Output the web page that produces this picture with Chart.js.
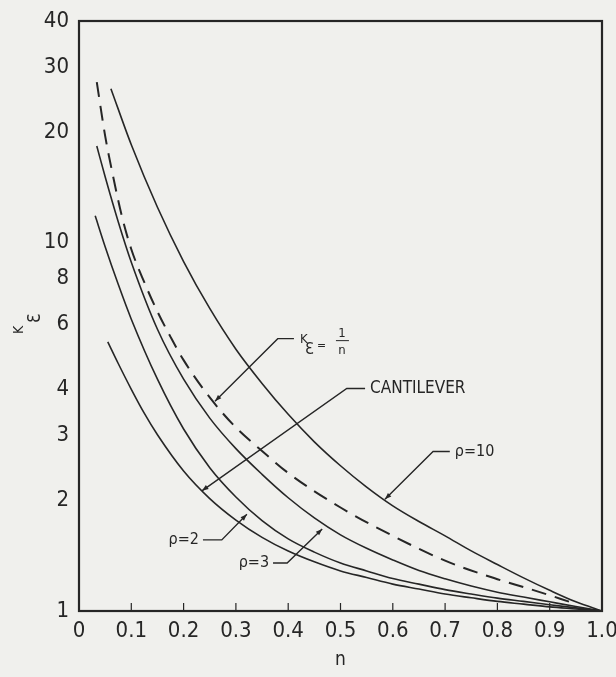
<!DOCTYPE html>
<html>
<head>
<meta charset="utf-8">
<script src="https://cdn.jsdelivr.net/npm/chart.js@4.4.1/dist/chart.umd.min.js"></script>
<style>
html, body { margin: 0; padding: 0; background: #f0f0ed; }
</style>
</head>
<body>
<canvas id="kChart" width="616" height="677"></canvas>
<script>
// AXES
const nTicks = [0, 0.1, 0.2, 0.3, 0.4, 0.5, 0.6, 0.7, 0.8, 0.9, 1.0];
const nTickLabels = ['0', '0.1', '0.2', '0.3', '0.4', '0.5', '0.6', '0.7', '0.8', '0.9', '1.0'];
const kTicks = [1, 2, 3, 4, 6, 8, 10, 20, 30, 40];

// CURVES
const nP10 = [0.061, 0.1, 0.15, 0.2, 0.25, 0.3, 0.35, 0.4, 0.45, 0.5, 0.55, 0.6, 0.65, 0.7, 0.75, 0.8, 0.85, 0.9, 0.95, 1.0];
const kP10 = [26.2, 18.45, 12.48, 8.89, 6.63, 5.14, 4.15, 3.42, 2.88, 2.48, 2.17, 1.93, 1.75, 1.6, 1.456, 1.337, 1.23, 1.138, 1.059, 1.0];

const nInv = [0.034, 0.05, 0.065, 0.082, 0.1, 0.125, 0.15, 0.175, 0.2, 0.25, 0.3, 0.35, 0.4, 0.5, 0.6, 0.7, 0.8, 0.86, 0.92, 0.95];
const kInv = [27.3, 19.5, 15.2, 11.8, 9.6, 7.8, 6.5, 5.55, 4.8, 3.8, 3.15, 2.72, 2.37, 1.91, 1.6, 1.37, 1.22, 1.15, 1.08, 1.045];

const nP3 = [0.034, 0.05, 0.075, 0.1, 0.15, 0.2, 0.25, 0.3, 0.35, 0.4, 0.45, 0.5, 0.55, 0.6, 0.65, 0.7, 0.75, 0.8, 0.85, 0.9, 0.95, 1.0];
const kP3 = [18.3, 15.1, 11.4, 8.85, 5.82, 4.26, 3.34, 2.76, 2.35, 2.03, 1.79, 1.61, 1.48, 1.376, 1.288, 1.223, 1.169, 1.125, 1.091, 1.059, 1.028, 1.0];

const nP2 = [0.031, 0.05, 0.075, 0.1, 0.15, 0.2, 0.25, 0.3, 0.35, 0.4, 0.45, 0.5, 0.55, 0.6, 0.65, 0.7, 0.75, 0.8, 0.85, 0.9, 0.95, 1.0];
const kP2 = [11.83, 9.75, 7.71, 6.2, 4.26, 3.12, 2.45, 2.04, 1.76, 1.57, 1.445, 1.35, 1.285, 1.225, 1.183, 1.143, 1.112, 1.084, 1.062, 1.04, 1.02, 1.0];

const nCant = [0.055, 0.075, 0.1, 0.125, 0.15, 0.2, 0.25, 0.3, 0.35, 0.4, 0.45, 0.5, 0.55, 0.6, 0.65, 0.7, 0.75, 0.8, 0.85, 0.9, 0.95, 1.0];
const kCant = [5.38, 4.7, 4.0, 3.44, 3.01, 2.4, 2.02, 1.766, 1.585, 1.455, 1.36, 1.285, 1.233, 1.183, 1.147, 1.112, 1.086, 1.062, 1.044, 1.026, 1.013, 1.0];

// LEADER LABELS (tip, elbow, end in n / K units)
const notes = [
    { text: 'CANTILEVER', tip: [0.235, 2.12], elbow: [0.512, 4.02], end: [0.547, 4.02], side: 'right' },
    { text: 'ρ=10', tip: [0.585, 2.01], elbow: [0.677, 2.71], end: [0.709, 2.71], side: 'right' },
    { text: 'ρ=2', tip: [0.321, 1.83], elbow: [0.273, 1.56], end: [0.237, 1.56], side: 'left' },
    { text: 'ρ=3', tip: [0.465, 1.67], elbow: [0.398, 1.35], end: [0.371, 1.35], side: 'left' },
    { text: 'inverse', tip: [0.26, 3.71], elbow: [0.38, 5.49], end: [0.411, 5.49], side: 'right' }
];

const ink = '#262626';
const fam = "'DejaVu Sans Condensed', 'DejaVu Sans', sans-serif";

function pts(ns, ks) {
    return ns.map((n, i) => ({ x: n, y: ks[i] }));
}

function curve(label, ns, ks, dash) {
    return {
        label: label,
        data: pts(ns, ks),
        showLine: true,
        borderColor: ink,
        borderWidth: dash ? 2 : 1.6,
        borderDash: dash || [],
        pointRadius: 0,
        cubicInterpolationMode: 'monotone',
        fill: false
    };
}

function arrowHead(ctx, x0, y0, x1, y1) {
    const a = Math.atan2(y1 - y0, x1 - x0);
    const len = 7;
    ctx.beginPath();
    ctx.moveTo(x1, y1);
    ctx.lineTo(x1 - len * Math.cos(a - 0.35), y1 - len * Math.sin(a - 0.35));
    ctx.lineTo(x1 - len * Math.cos(a + 0.35), y1 - len * Math.sin(a + 0.35));
    ctx.closePath();
    ctx.fill();
}

const decor = {
    id: 'decor',
    beforeDraw(chart) {
        const ctx = chart.ctx;
        ctx.save();
        ctx.fillStyle = '#f0f0ed';
        ctx.fillRect(0, 0, chart.width, chart.height);
        ctx.restore();
    },
    afterDatasetsDraw(chart) {
        const ctx = chart.ctx;
        const a = chart.chartArea;
        const xs = chart.scales.x;
        const ys = chart.scales.y;

        ctx.save();
        ctx.strokeStyle = ink;
        ctx.fillStyle = ink;

        // frame
        ctx.lineWidth = 2.2;
        ctx.strokeRect(a.left, a.top, a.right - a.left, a.bottom - a.top);

        // inward ticks on n axis
        ctx.lineWidth = 1.2;
        nTicks.slice(1, -1).forEach(v => {
            const x = xs.getPixelForValue(v);
            ctx.beginPath();
            ctx.moveTo(x, a.bottom);
            ctx.lineTo(x, a.bottom - 8);
            ctx.stroke();
        });

        // leaders
        notes.forEach(nt => {
            const tx = xs.getPixelForValue(nt.tip[0]), ty = ys.getPixelForValue(nt.tip[1]);
            const ex = xs.getPixelForValue(nt.elbow[0]), ey = ys.getPixelForValue(nt.elbow[1]);
            const fx = xs.getPixelForValue(nt.end[0]);
            ctx.lineWidth = 1.4;
            ctx.beginPath();
            ctx.moveTo(fx, ey);
            ctx.lineTo(ex, ey);
            ctx.lineTo(tx, ty);
            ctx.stroke();
            arrowHead(ctx, ex, ey, tx, ty);

            ctx.textBaseline = 'middle';
            if (nt.text === 'inverse') {
                const x0 = fx + 6;
                ctx.textAlign = 'left';
                ctx.textBaseline = 'alphabetic';
                ctx.font = '13px ' + fam;
                ctx.fillText('K', x0, ey + 4);
                ctx.font = '16px ' + fam;
                ctx.fillText('Ɛ', x0 + 5, ey + 15);
                ctx.font = '12px ' + fam;
                ctx.fillText('=', x0 + 17, ey + 10);
                ctx.font = '13px ' + fam;
                ctx.textAlign = 'center';
                ctx.fillText('1', x0 + 42, ey - 2);
                ctx.fillText('n', x0 + 42, ey + 15);
                ctx.lineWidth = 1;
                ctx.beginPath();
                ctx.moveTo(x0 + 36, ey + 2);
                ctx.lineTo(x0 + 49, ey + 2);
                ctx.stroke();
            } else {
                ctx.font = (nt.text === 'CANTILEVER' ? '17px ' : '16px ') + fam;
                if (nt.side === 'right') {
                    ctx.textAlign = 'left';
                    ctx.fillText(nt.text, fx + 5, ey);
                } else {
                    ctx.textAlign = 'right';
                    ctx.fillText(nt.text, fx - 4, ey);
                }
            }
        });

        // K_epsilon axis title
        ctx.translate(23, 326);
        ctx.rotate(-Math.PI / 2);
        ctx.textAlign = 'left';
        ctx.textBaseline = 'alphabetic';
        ctx.font = '14px ' + fam;
        ctx.fillText('K', -8, 0);
        ctx.font = '17px ' + fam;
        ctx.fillText('Ɛ', 3, 17);

        ctx.restore();
    }
};

const ctx = document.getElementById('kChart');

new Chart(ctx, {
    type: 'scatter',
    data: {
        datasets: [
            curve('ρ=10', nP10, kP10),
            curve('Kε = 1/n', nInv, kInv, [15, 9]),
            curve('ρ=3', nP3, kP3),
            curve('ρ=2', nP2, kP2),
            curve('Cantilever', nCant, kCant)
        ]
    },
    options: {
        responsive: false,
        animation: false,
        devicePixelRatio: 1,
        layout: {
            padding: { left: 0, right: 14, top: 21, bottom: 0 }
        },
        plugins: {
            legend: { display: false },
            tooltip: { enabled: false }
        },
        scales: {
            x: {
                type: 'linear',
                min: 0,
                max: 1,
                afterBuildTicks: s => { s.ticks = nTicks.map(v => ({ value: v })); },
                afterFit: s => {
                    s.height = 66;
                    s.paddingLeft = 0;
                    s.paddingRight = 0;
                },
                ticks: {
                    autoSkip: false,
                    maxRotation: 0,
                    padding: -1,
                    color: ink,
                    font: { family: fam, size: 22 },
                    callback: (v, i) => nTickLabels[i]
                },
                grid: { display: false },
                border: { display: false },
                title: {
                    display: true,
                    text: 'n',
                    color: ink,
                    font: { family: fam, size: 19 },
                    padding: { top: 0, bottom: 6 }
                }
            },
            y: {
                type: 'logarithmic',
                min: 1,
                max: 40,
                afterBuildTicks: s => { s.ticks = kTicks.map(v => ({ value: v })); },
                afterFit: s => { s.width = 79; },
                ticks: {
                    autoSkip: false,
                    padding: 2,
                    color: ink,
                    font: { family: fam, size: 22 },
                    callback: v => String(v)
                },
                grid: { display: false },
                border: { display: false }
            }
        }
    },
    plugins: [decor]
});
</script>
</body>
</html>
